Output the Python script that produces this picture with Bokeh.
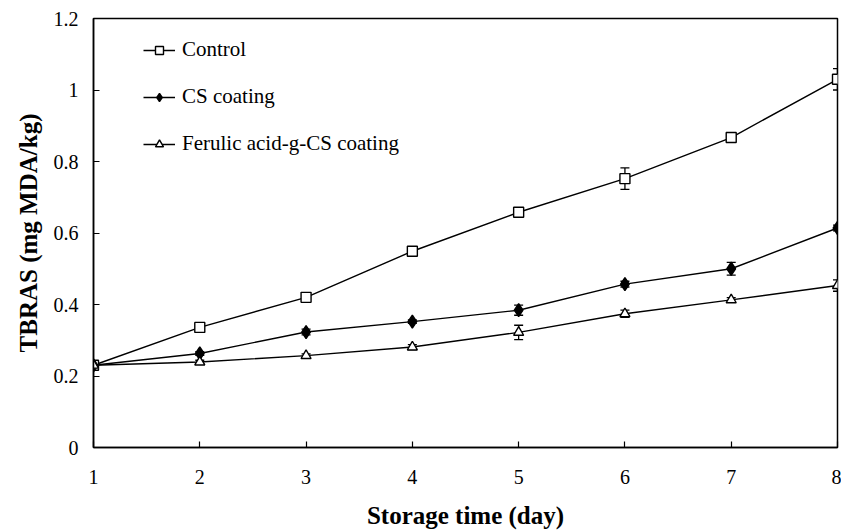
from bokeh.plotting import figure
from bokeh.models import (Range1d, FixedTicker, CustomJSTickFormatter, Whisker, TeeHead,
                          ColumnDataSource, Legend, LegendItem)
from bokeh.embed import file_html
from bokeh.resources import INLINE

days = [1, 2, 3, 4, 5, 6, 7, 8]
control = [0.23, 0.336, 0.42, 0.549, 0.658, 0.752, 0.867, 1.03]
control_err = [0.0, 0.005, 0.005, 0.005, 0.012, 0.03, 0.01, 0.03]
cs = [0.23, 0.263, 0.323, 0.352, 0.384, 0.457, 0.50, 0.614]
cs_err = [0.0, 0.005, 0.008, 0.005, 0.014, 0.008, 0.018, 0.008]
fer = [0.23, 0.239, 0.257, 0.281, 0.322, 0.374, 0.413, 0.453]
fer_err = [0.0, 0.005, 0.005, 0.007, 0.02, 0.01, 0.006, 0.016]
series_names = ["Control", "CS coating", "Ferulic acid-g-CS coating"]
y_ticks = [0, 0.2, 0.4, 0.6, 0.8, 1.0, 1.2]
x_ticks = [1, 2, 3, 4, 5, 6, 7, 8]

FONT = "Liberation Serif"

p = figure(width=841, height=531, output_backend="svg", toolbar_location=None,
           x_range=Range1d(1, 8), y_range=Range1d(0, 1.2),
           min_border_left=93, min_border_right=4, min_border_top=18, min_border_bottom=83)
p.background_fill_color = "white"
p.border_fill_color = "white"
p.grid.visible = False
p.outline_line_color = "black"
p.outline_line_width = 1.5

for ax in (p.xaxis[0], p.yaxis[0]):
    ax.axis_line_color = "black"
    ax.axis_line_width = 1.5
    ax.major_tick_in = 6
    ax.major_tick_out = 0
    ax.minor_tick_in = 0
    ax.minor_tick_out = 0
    ax.major_tick_line_color = "black"
    ax.major_tick_line_width = 1.2
    ax.major_label_text_font = FONT
    ax.major_label_text_font_size = "20px"
    ax.major_label_text_color = "#000000"
    ax.axis_label_text_font = FONT
    ax.axis_label_text_font_style = "bold"
    ax.axis_label_text_color = "#000000"
    ax.axis_label_text_font_size = "25px"

p.xaxis.ticker = FixedTicker(ticks=x_ticks)
p.yaxis.ticker = FixedTicker(ticks=y_ticks)
p.yaxis.formatter = CustomJSTickFormatter(code="return tick.toFixed(1).replace(/\\.0$/, '');")
p.xaxis.axis_label = "Storage time (day)"
p.yaxis.axis_label = "TBRAS (mg MDA/kg)"
p.xaxis.major_label_standoff = 22
p.yaxis.major_label_standoff = 15
p.xaxis.axis_label_standoff = 15
p.yaxis.axis_label_standoff = 9
p.xaxis.major_label_text_line_height = 1.0
p.xaxis.axis_label_text_line_height = 1.0

items = []
specs = [
    (control, control_err, "square", "white"),
    (cs, cs_err, "diamond", "black"),
    (fer, fer_err, "triangle", "white"),
]
for name, (vals, errs, marker, fill) in zip(series_names, specs):
    src = ColumnDataSource(dict(x=days, y=vals,
                                lo=[v - e for v, e in zip(vals, errs)],
                                hi=[v + e for v, e in zip(vals, errs)]))
    w = Whisker(source=src, base="x", lower="lo", upper="hi",
                line_color="black", line_width=1.3,
                upper_head=TeeHead(size=9, line_color="black", line_width=1.3),
                lower_head=TeeHead(size=9, line_color="black", line_width=1.3))
    p.add_layout(w)
    lr = p.line("x", "y", source=src, line_color="black", line_width=1.4)
    size = 13 if marker == "diamond" else 10
    mr = p.scatter("x", "y", source=src, marker=marker, size=size,
                   fill_color=fill, line_color="black", line_width=1.4)
    items.append(LegendItem(label=name, renderers=[lr, mr]))

legend = Legend(items=items, location=(50, 291))
legend.border_line_color = None
legend.background_fill_alpha = 0
legend.padding = 0
legend.margin = 0
legend.spacing = 22
legend.glyph_width = 32
legend.glyph_height = 20
legend.label_height = 24
legend.label_standoff = 7
legend.label_text_font = FONT
legend.label_text_font_size = "21px"
legend.label_text_color = "black"
p.add_layout(legend, "center")

open("out.html", "w").write(file_html(p, INLINE))
